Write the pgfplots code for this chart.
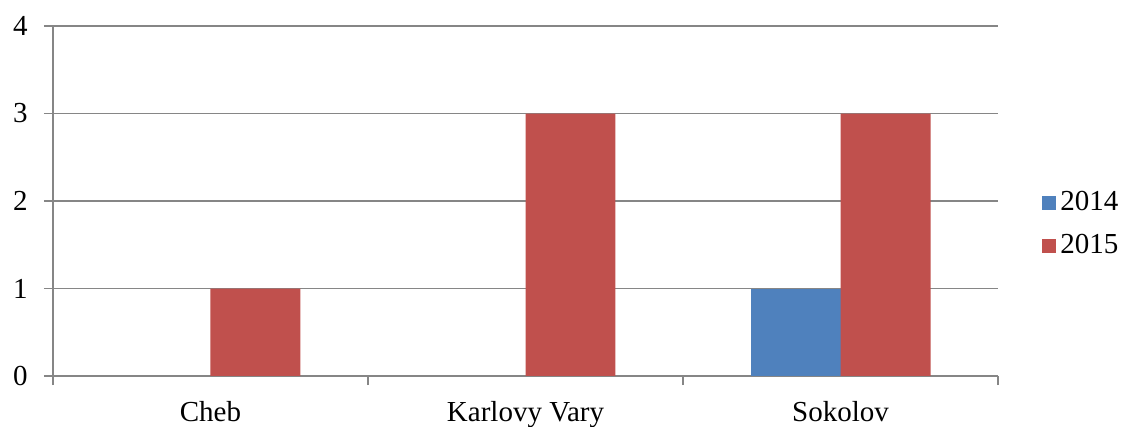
\documentclass[border=0pt]{standalone}
\usepackage{pgfplots}
\pgfplotsset{compat=1.18}
\usepackage{fontspec}
\setmainfont{Liberation Serif}
\definecolor{ser1}{HTML}{4F81BD}
\definecolor{ser2}{HTML}{C0504D}
\definecolor{gridc}{HTML}{868686}
\begin{document}
\fontsize{14.5bp}{17bp}\selectfont
\begin{tikzpicture}
\begin{axis}[
  at={(0,0)}, anchor=south west,
  scale only axis, width=472.5bp, height=175bp,
  xmin=-0.5, xmax=2.5, ymin=0, ymax=4,
  ybar=0pt, bar width=0.2857,
  axis x line*=bottom, axis y line*=left,
  axis line style={gridc, line width=0.75bp},
  xtick={-0.5,0.5,1.5,2.5},
  xticklabels={Cheb,Karlovy Vary,Sokolov},
  x tick label as interval,
  ytick={0,1,2,3,4},
  tick align=outside, major tick length=4.5bp,
  tick style={gridc, line width=0.75bp},
  ymajorgrids, grid style={gridc, line width=0.75bp},
  /pgf/number format/assume math mode=true,
  tick label style={font=\fontsize{14.5bp}{17bp}\selectfont},
  yticklabel style={xshift=-3.2bp},
  xticklabel style={yshift=-3bp},
  legend style={at={(1.0465,0.432)}, anchor=west, draw=none, fill=none,
    inner sep=0pt, row sep=5.5bp, font=\fontsize{14.5bp}{17bp}\selectfont},
  legend cell align=left,
  legend image code/.code={\fill[#1] (0bp,-3.5bp) rectangle (7bp,3.5bp);},
]
\addplot[fill=ser1, draw=none] coordinates {(2,1)};
\addplot[fill=ser2, draw=none] coordinates {(0,1) (1,3) (2,3)};
\legend{2014,2015}
\end{axis}
\pgfresetboundingbox
\useasboundingbox (-26.5bp,-25.5bp) rectangle (536bp,188bp);
\end{tikzpicture}
\end{document}
